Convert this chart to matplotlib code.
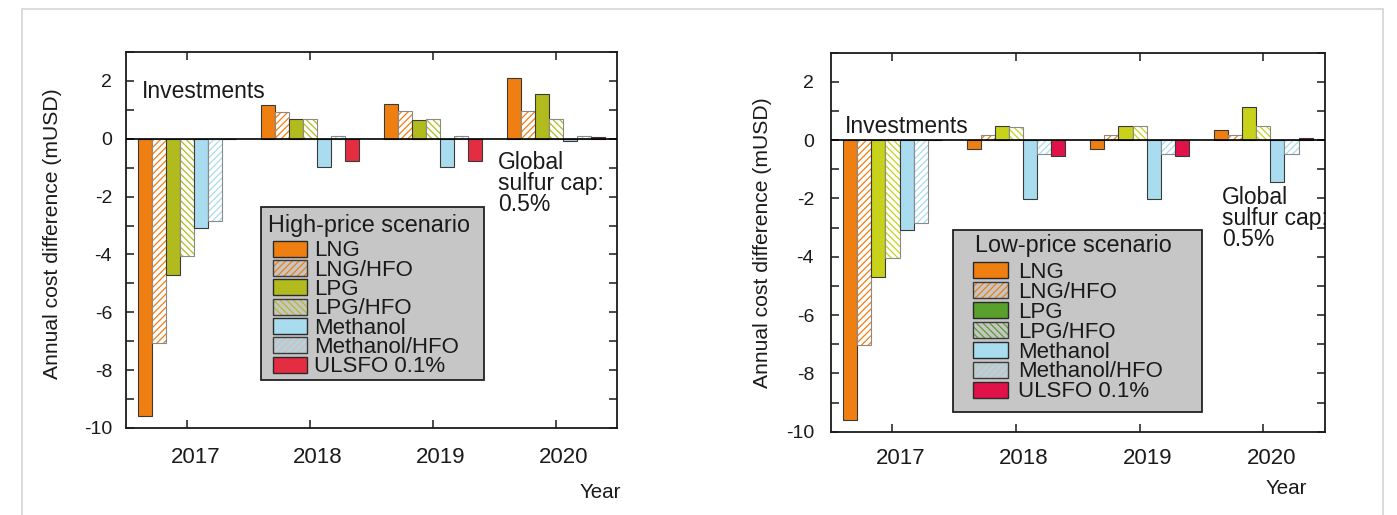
import numpy as np
import matplotlib
matplotlib.use("Agg")
import matplotlib.pyplot as plt
from matplotlib.patches import Rectangle
from matplotlib.ticker import MultipleLocator, FixedLocator
from matplotlib.transforms import ScaledTranslation

plt.rcParams['font.family'] = ['Liberation Sans', 'DejaVu Sans']
plt.rcParams['hatch.linewidth'] = 0.9

years = ['2017', '2018', '2019', '2020']
series = ['LNG', 'LNG/HFO', 'LPG', 'LPG/HFO', 'Methanol', 'Methanol/HFO', 'ULSFO 0.1%']

# High-price scenario (annual cost difference, mUSD)
high_lng = [-9.60, 1.18, 1.21, 2.10]
high_lng_hfo = [-7.05, 0.91, 0.95, 0.95]
high_lpg = [-4.71, 0.68, 0.66, 1.56]
high_lpg_hfo = [-4.04, 0.68, 0.68, 0.68]
high_methanol = [-3.08, -0.98, -0.98, -0.09]
high_methanol_hfo = [-2.84, 0.09, 0.09, 0.09]
high_ulsfo = [0.0, -0.78, -0.78, 0.07]

# Low-price scenario (annual cost difference, mUSD)
low_lng = [-9.60, -0.30, -0.30, 0.35]
low_lng_hfo = [-7.03, 0.17, 0.19, 0.19]
low_lpg = [-4.71, 0.48, 0.48, 1.13]
low_lpg_hfo = [-4.03, 0.46, 0.48, 0.47]
low_methanol = [-3.09, -2.02, -2.03, -1.44]
low_methanol_hfo = [-2.83, -0.47, -0.47, -0.49]
low_ulsfo = [0.0, -0.53, -0.53, 0.09]

high_values = [high_lng, high_lng_hfo, high_lpg, high_lpg_hfo,
               high_methanol, high_methanol_hfo, high_ulsfo]
low_values = [low_lng, low_lng_hfo, low_lpg, low_lpg_hfo,
              low_methanol, low_methanol_hfo, low_ulsfo]

ORANGE = '#F07F12'
BLUE = '#A9DCEF'
high_colors = [ORANGE, ORANGE, '#B2BB1E', '#B2BB1E', BLUE, BLUE, '#E52D42']
low_colors = [ORANGE, ORANGE, '#C8D21A', '#C8D21A', BLUE, BLUE, '#E01249']
low_legend_colors = [ORANGE, ORANGE, '#5AA02D', '#5AA02D', BLUE, BLUE, '#E01249']
hatches = [None, '/////', None, '\\\\\\\\\\', None, '/////', None]

TEXT = '#1a1a1a'
LEGEND_BG = '#c6c6c6'

W, H = 1397, 515
fig = plt.figure(figsize=(W / 100, H / 100), dpi=100)

# thin grey frame around the figure panel
fig.add_artist(Rectangle((21.5 / W, -0.2), (1382.5 - 21.5) / W, 1.2 - 9.3 / H,
                         transform=fig.transFigure, fill=False,
                         edgecolor='#d4d4d4', linewidth=1.2))


def px_axes(left, top, right, bottom):
    return fig.add_axes([left / W, 1 - bottom / H, (right - left) / W, (bottom - top) / H])


def draw_panel(ax, box, values, colors, legend_colors, title, layout):
    left, top, right, bottom = box
    n = len(values)
    width = 0.8 / n
    x = np.arange(len(years))
    for i, (vals, col, hat) in enumerate(zip(values, colors, hatches)):
        pos = x + (i - (n - 1) / 2) * width
        if hat is None:
            ax.bar(pos, vals, width=width, color=col, edgecolor='#3a3a3a',
                   linewidth=0.8, zorder=2)
        else:
            ax.bar(pos, vals, width=width, color='white', edgecolor=col,
                   linewidth=0, hatch=hat, zorder=2)
            ax.bar(pos, vals, width=width, fill=False, edgecolor='#8a8a8a',
                   linewidth=0.8, zorder=2)

    ax.axhline(0, color='black', linewidth=1.2, zorder=3)
    ax.set_xlim(-0.5, 3.5)
    ax.set_ylim(-10, 3)
    ax.xaxis.set_major_locator(FixedLocator(x))
    ax.set_xticklabels(years)
    ax.yaxis.set_minor_locator(MultipleLocator(1))
    ax.set_yticks([-10, -8, -6, -4, -2, 0, 2])
    ax.set_yticklabels(['-10', '-8', '-6', '-4', '-2', '0', '2'])

    for sp in ax.spines.values():
        sp.set_linewidth(1.3)
        sp.set_color('#1a1a1a')
    ax.tick_params(axis='both', which='both', direction='in', length=6,
                   width=1.1, top=True, right=True, colors='#1a1a1a')
    ax.tick_params(axis='y', labelsize=14, pad=layout['ypad'], labelcolor=TEXT)
    ax.tick_params(axis='x', labelsize=16, pad=layout['xpad'], labelcolor=TEXT)
    shift = ScaledTranslation(8 / 100, 0, fig.dpi_scale_trans)
    for lab in ax.get_xticklabels():
        lab.set_transform(lab.get_transform() + shift)

    def fx(px):
        return (px - left) / (right - left)

    def fy(py):
        return (bottom - py) / (bottom - top)

    ax.text(fx(layout['ylabel_x']), fy(layout['ylabel_y']),
            'Annual cost difference (mUSD)', rotation=90, ha='center',
            va='center', fontsize=15.2, color=TEXT, transform=ax.transAxes)
    ax.text(fx(layout['year_x']), fy(layout['year_y']), 'Year', ha='center',
            va='center', fontsize=14.8, color=TEXT, transform=ax.transAxes,
            clip_on=False)
    ax.text(fx(layout['inv_x']), fy(layout['inv_y']), 'Investments', ha='left',
            va='center', fontsize=16.5, color=TEXT, transform=ax.transAxes)
    ax.text(fx(layout['cap_x']), fy(layout['cap_y']), 'Global\nsulfur cap:\n0.5%',
            ha='left', va='center', fontsize=16.5, color=TEXT,
            linespacing=0.88, transform=ax.transAxes, zorder=1)

    # legend box
    lx0, ly0, lx1, ly1 = layout['legend_box']
    ax.add_patch(Rectangle((fx(lx0), fy(ly1)), fx(lx1) - fx(lx0), fy(ly0) - fy(ly1),
                           transform=ax.transAxes, facecolor=LEGEND_BG,
                           edgecolor='#222222', linewidth=1.3, zorder=4))
    ax.text(fx(layout['title_x']), fy(layout['title_base']), title, ha='left',
            va='baseline', fontsize=16.8, color=TEXT, transform=ax.transAxes,
            zorder=5)
    px0, px1 = layout['patch_x']
    for i, (name, col, hat) in enumerate(zip(series, legend_colors, hatches)):
        cy = layout['entry0'] + i * layout['entry_step']
        y_top, y_bot = cy - 8, cy + 8
        rect = (fx(px0), fy(y_bot))
        rw, rh = fx(px1) - fx(px0), fy(y_top) - fy(y_bot)
        if hat is None:
            ax.add_patch(Rectangle(rect, rw, rh, transform=ax.transAxes,
                                   facecolor=col, edgecolor='#2a2a2a',
                                   linewidth=1.0, zorder=5))
        else:
            ax.add_patch(Rectangle(rect, rw, rh, transform=ax.transAxes,
                                   facecolor=LEGEND_BG, edgecolor=col,
                                   linewidth=0, hatch=hat, zorder=5))
            ax.add_patch(Rectangle(rect, rw, rh, transform=ax.transAxes,
                                   fill=False, edgecolor='#3a3a3a',
                                   linewidth=1.0, zorder=5))
        ax.text(fx(layout['label_x']), fy(cy + 7.6), name, ha='left',
                va='baseline', fontsize=16, color=TEXT,
                transform=ax.transAxes, zorder=5)


left_box = (126, 52, 617, 428)
right_box = (830.7, 52.7, 1325, 431.7)

ax1 = px_axes(*left_box)
ax2 = px_axes(*right_box)

draw_panel(ax1, left_box, high_values, high_colors, high_colors,
           'High-price scenario',
           dict(ypad=10, xpad=13.5, ylabel_x=53, ylabel_y=234,
                year_x=600, year_y=492, inv_x=141.7, inv_y=91.7,
                cap_x=498.3, cap_y=183.3,
                legend_box=(261, 206.7, 484.3, 380), title_x=268.3,
                title_base=231.7, patch_x=(273.3, 306.7), entry0=248.7,
                entry_step=19.35, label_x=314))

draw_panel(ax2, right_box, low_values, low_colors, low_legend_colors,
           'Low-price scenario',
           dict(ypad=12, xpad=11.5, ylabel_x=762, ylabel_y=243,
                year_x=1286, year_y=489, inv_x=845, inv_y=126.7,
                cap_x=1221.7, cap_y=218.7,
                legend_box=(952.7, 230, 1202.3, 411.7), title_x=975,
                title_base=252.3, patch_x=(973.3, 1007.7), entry0=270.3,
                entry_step=19.9, label_x=1018.3))

fig.savefig('out.png', dpi=100)
